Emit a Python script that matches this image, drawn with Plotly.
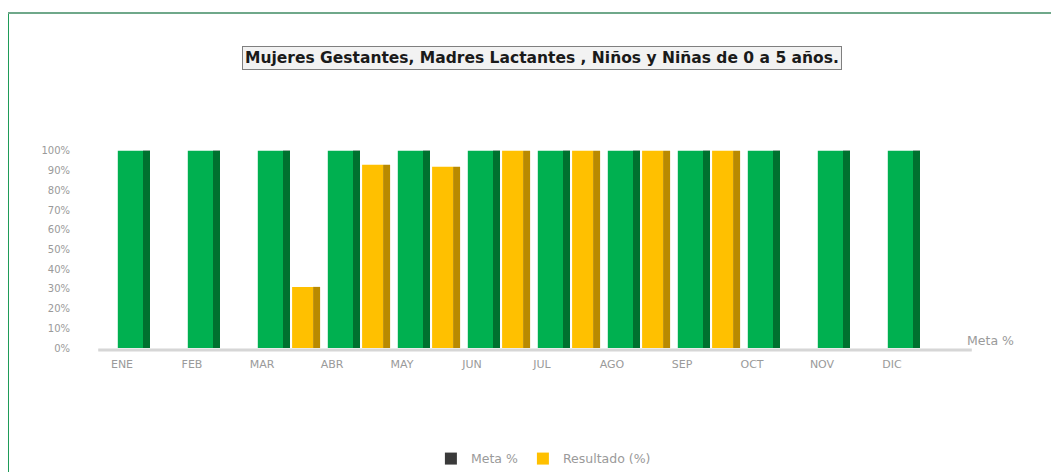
import plotly.graph_objects as go

meses = ["ENE", "FEB", "MAR", "ABR", "MAY", "JUN", "JUL", "AGO", "SEP", "OCT", "NOV", "DIC"]
meta = [1, 1, 1, 1, 1, 1, 1, 1, 1, 1, 1, 1]
resultado = [0, 0, 0.31, 0.93, 0.92, 1.0, 1.0, 1.0, 1.0, 0, 0, 0]

titulo = "Mujeres Gestantes, Madres Lactantes , Niños y Niñas de 0 a 5 años."

verde = "#00b050"
verde_lado = "#00712f"
amarillo = "#ffc000"
amarillo_lado = "#b98a00"
gris = "#9a9a9a"

fig = go.Figure()
# caras frontales y laterales para simular el efecto 3D
fig.add_trace(go.Bar(x=meses, y=meta, name="Meta %", marker=dict(color=verde, line_width=0),
                     offset=-0.46, width=0.36, showlegend=False, legendgroup="meta"))
fig.add_trace(go.Bar(x=meses, y=meta, name="Meta %", marker=dict(color="#3a3a3a", line_width=0),
                     offset=-0.10, width=0.1, legendgroup="meta"))
fig.add_trace(go.Bar(x=meses, y=meta, marker=dict(color=verde_lado, line_width=0),
                     offset=-0.10, width=0.1, showlegend=False, hoverinfo="skip"))
fig.add_trace(go.Bar(x=meses, y=resultado, name="Resultado (%)", marker=dict(color=amarillo, line_width=0),
                     offset=0.03, width=0.3, legendgroup="res"))
fig.add_trace(go.Bar(x=meses, y=resultado, name="Resultado (%)", marker=dict(color=amarillo_lado, line_width=0),
                     offset=0.33, width=0.1, showlegend=False, legendgroup="res"))

# borde verde del gráfico (izquierda y arriba)
fig.add_shape(type="line", xref="paper", yref="paper", x0=-0.1274, x1=-0.1274, y0=1.618, y1=-0.62,
              line=dict(color="#1a9a55", width=2))
fig.add_shape(type="line", xref="paper", yref="paper", x0=-0.1274, x1=1.13, y0=1.618, y1=1.618,
              line=dict(color="#6fa88a", width=2))
# piso
fig.add_shape(type="line", xref="paper", yref="paper", x0=-0.02, x1=1.02, y0=-0.01, y1=-0.01,
              line=dict(color="#d6d6d6", width=3))

fig.add_annotation(text="<b>" + titulo + "</b>", xref="paper", yref="paper", x=0.508, y=1.40,
                   xanchor="center", yanchor="middle",
                   showarrow=False, font=dict(family="DejaVu Sans", size=15.5, color="#1a1a1a"),
                   bgcolor="#f2f2f2", bordercolor="#7f7f7f", borderwidth=1, borderpad=2)
fig.add_annotation(text="Meta %", xref="paper", yref="paper", x=1.012, y=-0.01, xanchor="left",
                   showarrow=False, font=dict(family="DejaVu Sans", size=12.5, color=gris))

fig.update_layout(
    width=1051, height=464,
    margin=dict(l=107, r=104, t=133, b=124, autoexpand=False),
    paper_bgcolor="white", plot_bgcolor="white",
    barmode="overlay",
    font=dict(family="DejaVu Sans", color=gris, size=11),
    legend=dict(orientation="h", x=0.51, xanchor="center", y=-0.536, yanchor="middle",
                font=dict(size=12.5, color=gris), itemwidth=30),
)
fig.update_xaxes(showgrid=False, showline=False, ticks="", ticklabelshift=-28, ticklabelstandoff=8,
                 tickfont=dict(size=11, color=gris))
fig.update_yaxes(range=[0, 1.05], dtick=0.1, tickformat=".0%", showgrid=False, zeroline=False,
                 ticklabelstandoff=44, tickfont=dict(size=10, color=gris))

fig.write_html("out.html")
